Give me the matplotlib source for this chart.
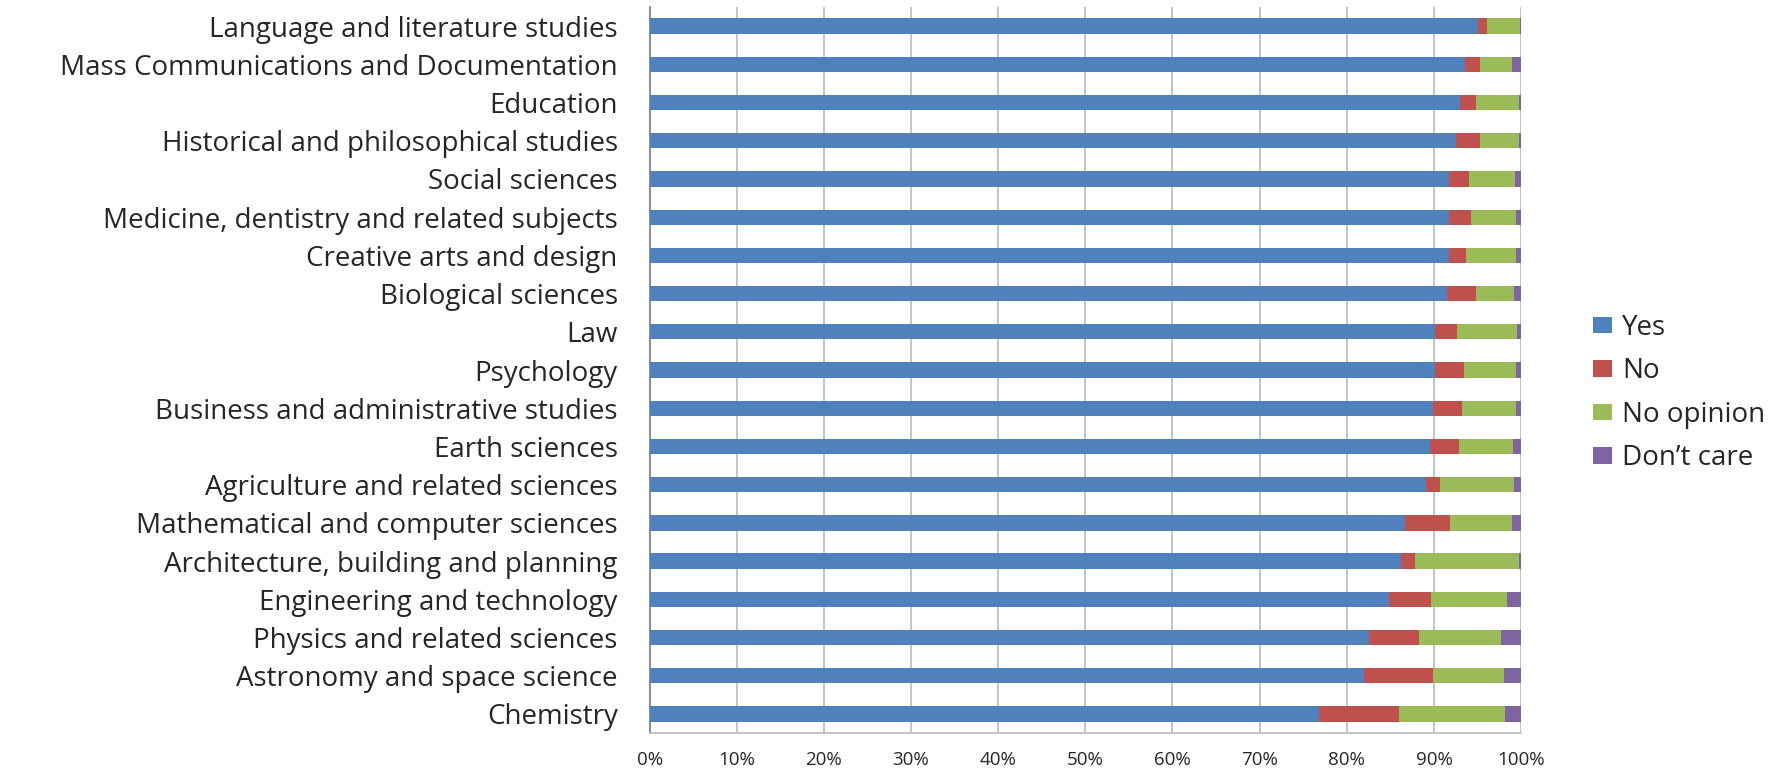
import matplotlib.pyplot as plt
import numpy as np
from matplotlib.patches import Patch
from matplotlib.ticker import FuncFormatter

plt.rcParams['font.family'] = ['Open Sans', 'DejaVu Sans']

subjects = [
    'Language and literature studies',
    'Mass Communications and Documentation',
    'Education',
    'Historical and philosophical studies',
    'Social sciences',
    'Medicine, dentistry and related subjects',
    'Creative arts and design',
    'Biological sciences',
    'Law',
    'Psychology',
    'Business and administrative studies',
    'Earth sciences',
    'Agriculture and related sciences',
    'Mathematical and computer sciences',
    'Architecture, building and planning',
    'Engineering and technology',
    'Physics and related sciences',
    'Astronomy and space science',
    'Chemistry',
]

yes = [95.0, 93.6, 93.0, 92.5, 91.7, 91.7, 91.7, 91.5, 90.1, 90.1,
       89.9, 89.5, 89.1, 86.7, 86.2, 84.8, 82.5, 82.0, 76.8]
no = [1.1, 1.7, 1.8, 2.8, 2.3, 2.6, 2.0, 3.3, 2.6, 3.4,
      3.3, 3.4, 1.6, 5.1, 1.6, 4.9, 5.8, 7.9, 9.2]
no_opinion = [3.8, 3.6, 5.0, 4.5, 5.3, 5.1, 5.7, 4.4, 6.8, 5.9,
              6.2, 6.2, 8.5, 7.1, 12.0, 8.7, 9.4, 8.1, 12.2]
dont_care = [0.1, 1.1, 0.2, 0.2, 0.7, 0.6, 0.6, 0.8, 0.5, 0.6,
             0.6, 0.9, 0.8, 1.1, 0.2, 1.6, 2.3, 2.0, 1.8]

series = [('Yes', yes, '#4F81BD'),
          ('No', no, '#C0504D'),
          ('No opinion', no_opinion, '#9BBB59'),
          ('Don\u2019t care', dont_care, '#8064A2')]

fig = plt.figure(figsize=(17.91, 7.73), dpi=100)
ax = fig.add_axes([0.3627, 0.0517, 0.4866, 0.9392])

y = np.arange(len(subjects))
left = np.zeros(len(subjects))
for name, vals, color in series:
    vals = np.array(vals)
    ax.barh(y, vals, left=left, height=0.4, color=color, zorder=3)
    left += vals

ax.set_xlim(0, 100)
ax.set_ylim(len(subjects) - 0.5, -0.5)
ax.set_xticks(np.arange(0, 101, 10))
ax.xaxis.set_major_formatter(FuncFormatter(lambda v, p: f'{v:.0f}%'))
ax.set_yticks(y)
ax.set_yticklabels(subjects)
ax.tick_params(axis='y', length=0, pad=23, labelsize=20, labelcolor='#262626')
ax.tick_params(axis='x', length=0, pad=13, labelsize=13.5, labelcolor='#262626')
ax.grid(axis='x', color='#BFBFBF', linewidth=1.3, zorder=0)

for s in ['top', 'right']:
    ax.spines[s].set_visible(False)
ax.spines['left'].set_color('#868686')
ax.spines['bottom'].set_color('#BFBFBF')
ax.spines['left'].set_linewidth(1.3)
ax.spines['bottom'].set_linewidth(1.3)

handles = [Patch(facecolor=c, label=n) for n, _, c in series]
fig.legend(handles=handles, loc='center left', bbox_to_anchor=(0.8894, 0.4915),
           frameon=False, fontsize=20, handlelength=0.68, handleheight=0.52,
           handletextpad=0.38, labelspacing=0.56, borderpad=0, borderaxespad=0,
           labelcolor='#262626')

plt.savefig('out.png', dpi=100)
